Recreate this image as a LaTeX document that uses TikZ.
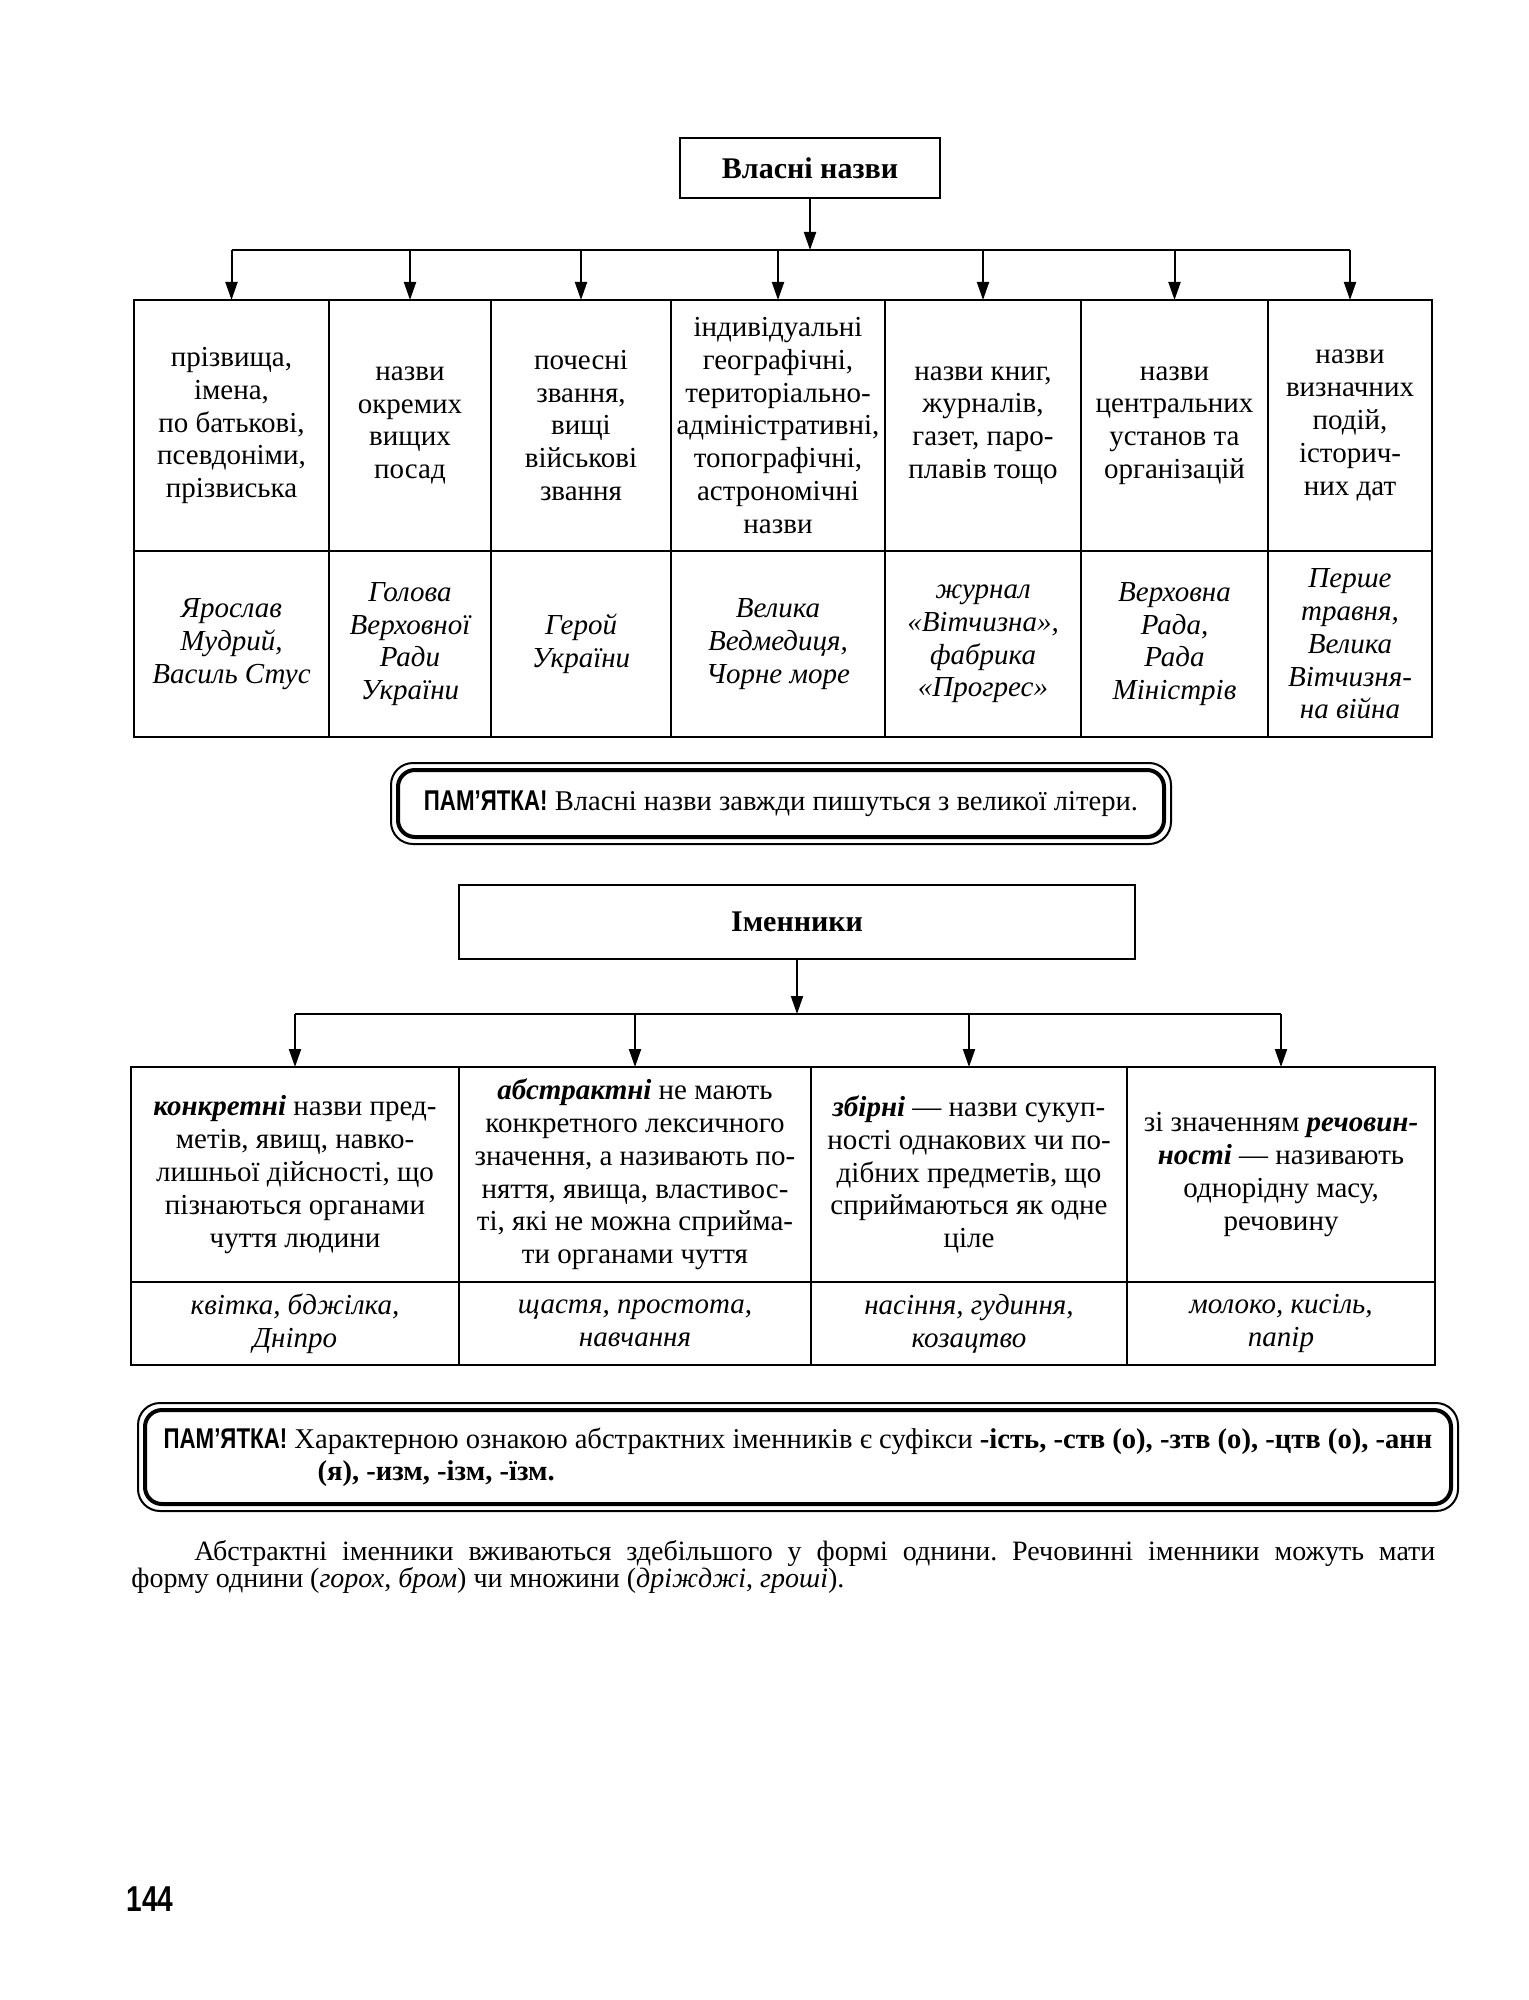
\documentclass[tikz,border=0pt]{standalone}
\usepackage{fontspec}
\setmainfont{Liberation Serif}
\newfontfamily\pamfont[FakeStretch=0.78]{Liberation Sans}
\usetikzlibrary{arrows.meta,positioning}
\frenchspacing

\begin{document}
\begin{tikzpicture}[x=0.5pt, y=-0.5pt,
  hdr/.style={draw, line width=1.3pt, outer sep=0pt, font=\fontsize{15}{18}\selectfont\bfseries},
  cell/.style={draw, line width=1.1pt, align=center, outer sep=0pt, inner sep=2pt,
               font=\fontsize{14.5}{16.4}\selectfont},
  ex/.style={cell, font=\fontsize{14.5}{16.4}\selectfont\itshape},
  memo/.style={draw, line width=1pt, rounded corners=11pt, outer sep=0pt,
               font=\fontsize{14.3}{16}\selectfont},
  inner/.style={line width=2pt, rounded corners=8.5pt},
  arr/.style={-{Triangle[length=9pt,width=6pt]}, line width=1pt},
  bus/.style={line width=1pt}]
  \useasboundingbox (0,0) rectangle (1529,2000);

  \node[hdr, minimum width=130pt, minimum height=30pt] (vn) at (810,168) {Власні назви};
  \coordinate (b1) at (0,250);

  \node[cell, anchor=north west, minimum width=97.5pt, minimum height=125.5pt] (v1) at (134,300)
    {прізвища,\\імена,\\по батькові,\\псевдоніми,\\прізвиська};
  \node[cell, right=0pt of v1, minimum width=81pt, minimum height=125.5pt] (v2)
    {назви\\окремих\\вищих\\посад};
  \node[cell, right=0pt of v2, minimum width=90pt, minimum height=125.5pt] (v3)
    {почесні\\звання,\\вищі\\військові\\звання};
  \node[cell, right=0pt of v3, minimum width=107pt, minimum height=125.5pt] (v4)
    {індивідуальні\\географічні,\\територіально-\\адміністративні,\\топографічні,\\астрономічні\\назви};
  \node[cell, right=0pt of v4, minimum width=98pt, minimum height=125.5pt] (v5)
    {назви книг,\\журналів,\\газет, паро-\\плавів тощо};
  \node[cell, right=0pt of v5, minimum width=93.5pt, minimum height=125.5pt] (v6)
    {назви\\центральних\\установ та\\організацій};
  \node[cell, right=0pt of v6, minimum width=82pt, minimum height=125.5pt] (v7)
    {назви\\визначних\\подій,\\історич-\\них дат};

  \node[ex, below=0pt of v1, minimum width=97.5pt, minimum height=93pt] (e1) {Ярослав\\Мудрий,\\Василь Стус};
  \node[ex, below=0pt of v2, minimum width=81pt, minimum height=93pt] (e2) {Голова\\Верховної\\Ради\\України};
  \node[ex, below=0pt of v3, minimum width=90pt, minimum height=93pt] (e3) {Герой\\України};
  \node[ex, below=0pt of v4, minimum width=107pt, minimum height=93pt] (e4) {Велика\\Ведмедиця,\\Чорне море};
  \node[ex, below=0pt of v5, minimum width=98pt, minimum height=93pt] (e5) {журнал\\«Вітчизна»,\\фабрика\\«Прогрес»};
  \node[ex, below=0pt of v6, minimum width=93.5pt, minimum height=93pt] (e6) {Верховна\\Рада,\\Рада\\Міністрів};
  \node[ex, below=0pt of v7, minimum width=82pt, minimum height=93pt] (e7) {Перше\\травня,\\Велика\\Вітчизня-\\на війна};

  \draw[arr] (vn) -- (vn |- b1);
  \draw[bus] (v1.north |- b1) -- (v7.north |- b1);
  \foreach \i in {1,...,7} \draw[arr] (v\i.north |- b1) -- (v\i.north);

  \node[memo, minimum width=390pt, minimum height=40.5pt] (m1) at (781,803.5)
    {{\pamfont\bfseries ПАМ’ЯТКА!} Власні назви завжди пишуться з великої літери.};
  \draw[inner] ([xshift=3.5pt,yshift=-3.5pt]m1.north west) rectangle ([xshift=-3.5pt,yshift=3.5pt]m1.south east);

  \node[hdr, minimum width=338pt, minimum height=37pt] (im) at (797,922) {Іменники};
  \coordinate (b2) at (0,1014);

  \node[cell, anchor=north west, minimum width=164pt, minimum height=107.5pt] (k1) at (131,1067)
    {\textbf{\textit{конкретні}} назви пред-\\метів, явищ, навко-\\лишньої дійсності, що\\пізнаються органами\\чуття людини};
  \node[cell, right=0pt of k1, minimum width=176pt, minimum height=107.5pt] (k2)
    {\textbf{\textit{абстрактні}} не мають\\конкретного лексичного\\значення, а називають по-\\няття, явища, властивос-\\ті, які не можна сприйма-\\ти органами чуття};
  \node[cell, right=0pt of k2, minimum width=158pt, minimum height=107.5pt] (k3)
    {\textbf{\textit{збірні}} — назви сукуп-\\ності однакових чи по-\\дібних предметів, що\\сприймаються як одне\\ціле};
  \node[cell, right=0pt of k3, minimum width=154pt, minimum height=107.5pt] (k4)
    {зі значенням \textbf{\textit{речовин-}}\\\textbf{\textit{ності}} — називають\\однорідну масу,\\речовину};

  \node[ex, below=0pt of k1, minimum width=164pt, minimum height=41.5pt] (n1) {квітка, бджілка,\\Дніпро};
  \node[ex, below=0pt of k2, minimum width=176pt, minimum height=41.5pt] (n2) {щастя, простота,\\навчання};
  \node[ex, below=0pt of k3, minimum width=158pt, minimum height=41.5pt] (n3) {насіння, гудиння,\\козацтво};
  \node[ex, below=0pt of k4, minimum width=154pt, minimum height=41.5pt] (n4) {молоко, кисіль,\\папір};

  \draw[arr] (im) -- (im |- b2);
  \draw[bus] (k1.north |- b2) -- (k4.north |- b2);
  \foreach \i in {1,...,4} \draw[arr] (k\i.north |- b2) -- (k\i.north);

  \node[memo, minimum width=660pt, minimum height=54pt, align=left] (m2) at (798,1457)
    {{\pamfont\bfseries ПАМ’ЯТКА!} Характерною ознакою абстрактних іменників є суфікси \textbf{-ість, -ств (о), -зтв (о), -цтв (о), -анн}\\
     \hspace*{77pt}\textbf{(я), -изм, -ізм, -їзм.}};
  \draw[inner] ([xshift=3.5pt,yshift=-3.5pt]m2.north west) rectangle ([xshift=-3.5pt,yshift=3.5pt]m2.south east);

  \node[anchor=north west, text width=652pt, inner sep=0pt, align=justify,
        font=\fontsize{14}{13.5}\selectfont] (par) at (131,1540)
    {\hspace*{31.5pt}Абстрактні іменники вживаються здебільшого у формі однини. Речовинні іменники можуть мати\linebreak
     форму однини (\textit{горох}, \textit{бром}) чи множини (\textit{дріжджі}, \textit{гроші}).};

  \node[font=\pamfont\bfseries\fontsize{18}{20}\selectfont] (pg) at (150,1899) {144};
\end{tikzpicture}
\end{document}
